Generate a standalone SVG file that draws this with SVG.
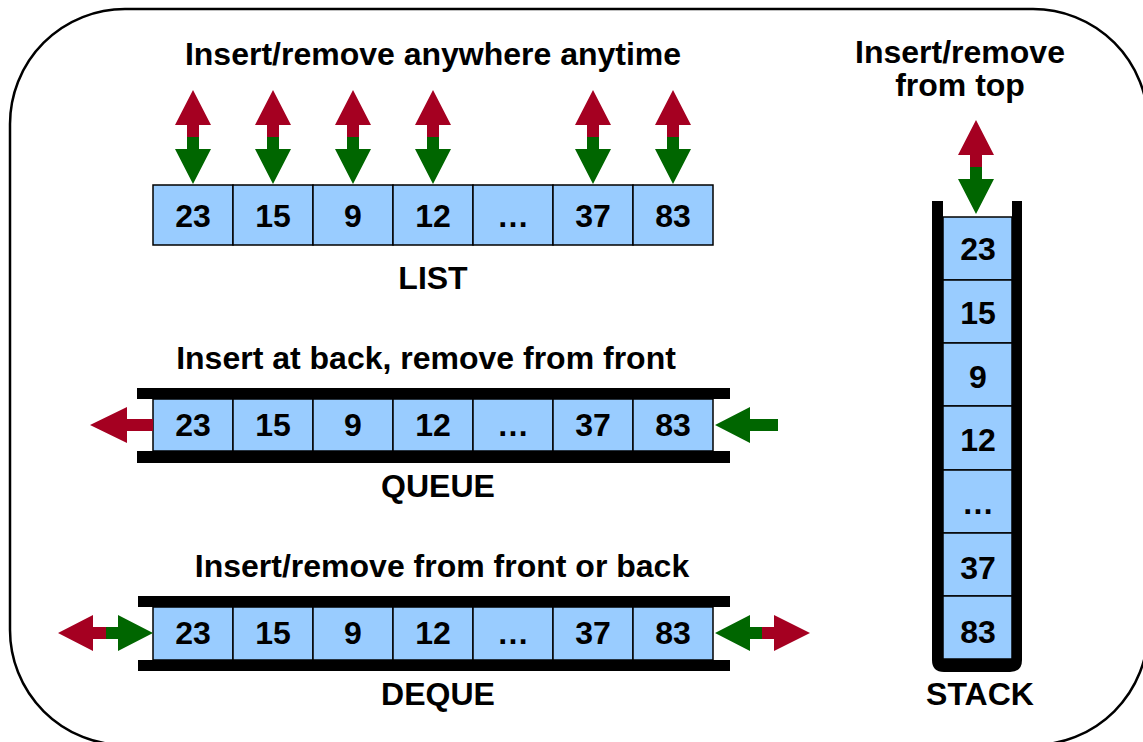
<svg xmlns="http://www.w3.org/2000/svg" width="1143" height="742" viewBox="0 0 1143 742">
<style>
.cell{fill:#99CCFF;stroke:#000;stroke-width:1.5}
.t{font-family:"Liberation Sans",Arial,sans-serif;font-weight:bold;font-size:32px;fill:#000;text-anchor:middle}
.n{font-family:"Liberation Sans",Arial,sans-serif;font-weight:bold;font-size:32px;fill:#000;text-anchor:middle}
.bar{fill:#000}
.red{fill:#A50021}
.grn{fill:#006600}
</style>
<defs>
<g id="vud">
<path class="red" d="M0,0 L18,35 L6,35 L6,47 L-6,47 L-6,35 L-18,35 Z"/>
<path class="grn" d="M-6,47 L6,47 L6,59 L18,59 L0,94 L-18,59 L-6,59 Z"/>
</g>
</defs>
<rect id="frame" x="10" y="9" width="1138" height="736" rx="115" ry="115" fill="#fff" stroke="#000" stroke-width="2.5"/>

<g id="list">
<text class="t" x="433" y="65">Insert/remove anywhere anytime</text>
<rect class="cell" x="153" y="185" width="80" height="60"/>
<rect class="cell" x="233" y="185" width="80" height="60"/>
<rect class="cell" x="313" y="185" width="80" height="60"/>
<rect class="cell" x="393" y="185" width="80" height="60"/>
<rect class="cell" x="473" y="185" width="80" height="60"/>
<rect class="cell" x="553" y="185" width="80" height="60"/>
<rect class="cell" x="633" y="185" width="80" height="60"/>
<text class="n" x="193" y="227">23</text>
<text class="n" x="273" y="227">15</text>
<text class="n" x="353" y="227">9</text>
<text class="n" x="433" y="227">12</text>
<text class="n" x="513" y="227">…</text>
<text class="n" x="593" y="227">37</text>
<text class="n" x="673" y="227">83</text>
<text class="t" x="433" y="289">LIST</text>
</g>

<g id="queue">
<text class="t" x="426" y="369">Insert at back, remove from front</text>
<rect class="bar" x="137" y="388" width="593" height="11"/>
<rect class="bar" x="137" y="451" width="593" height="12"/>
<rect class="cell" x="153" y="399" width="80" height="52"/>
<rect class="cell" x="233" y="399" width="80" height="52"/>
<rect class="cell" x="313" y="399" width="80" height="52"/>
<rect class="cell" x="393" y="399" width="80" height="52"/>
<rect class="cell" x="473" y="399" width="80" height="52"/>
<rect class="cell" x="553" y="399" width="80" height="52"/>
<rect class="cell" x="633" y="399" width="80" height="52"/>
<text class="n" x="193" y="436">23</text>
<text class="n" x="273" y="436">15</text>
<text class="n" x="353" y="436">9</text>
<text class="n" x="433" y="436">12</text>
<text class="n" x="513" y="436">…</text>
<text class="n" x="593" y="436">37</text>
<text class="n" x="673" y="436">83</text>
<text class="t" x="438" y="497">QUEUE</text>
</g>

<g id="deque">
<text class="t" x="442" y="577">Insert/remove from front or back</text>
<rect class="bar" x="138" y="596" width="592" height="11"/>
<rect class="bar" x="138" y="660" width="592" height="11"/>
<rect class="cell" x="153" y="607" width="80" height="53"/>
<rect class="cell" x="233" y="607" width="80" height="53"/>
<rect class="cell" x="313" y="607" width="80" height="53"/>
<rect class="cell" x="393" y="607" width="80" height="53"/>
<rect class="cell" x="473" y="607" width="80" height="53"/>
<rect class="cell" x="553" y="607" width="80" height="53"/>
<rect class="cell" x="633" y="607" width="80" height="53"/>
<text class="n" x="193" y="644">23</text>
<text class="n" x="273" y="644">15</text>
<text class="n" x="353" y="644">9</text>
<text class="n" x="433" y="644">12</text>
<text class="n" x="513" y="644">…</text>
<text class="n" x="593" y="644">37</text>
<text class="n" x="673" y="644">83</text>
<text class="t" x="438" y="705">DEQUE</text>
</g>

<g id="stack">
<text class="t" x="960" y="63">Insert/remove</text>
<text class="t" x="960" y="96">from top</text>
<path class="bar" d="M932,201 V660 Q932,672 944,672 H1010 Q1022,672 1022,660 V201 H1012 V659 H943 V201 Z"/>
<rect class="cell" x="943" y="217" width="69" height="63"/>
<rect class="cell" x="943" y="280" width="69" height="63"/>
<rect class="cell" x="943" y="343" width="69" height="63"/>
<rect class="cell" x="943" y="406" width="69" height="64"/>
<rect class="cell" x="943" y="470" width="69" height="63"/>
<rect class="cell" x="943" y="533" width="69" height="63"/>
<rect class="cell" x="943" y="596" width="69" height="63"/>
<text class="n" x="978" y="260">23</text>
<text class="n" x="978" y="324">15</text>
<text class="n" x="978" y="388">9</text>
<text class="n" x="978" y="451">12</text>
<text class="n" x="978" y="514">…</text>
<text class="n" x="978" y="579">37</text>
<text class="n" x="978" y="643">83</text>
<text class="t" x="980" y="705">STACK</text>
</g>

<g id="connectors">
<use href="#vud" x="193" y="90"/>
<use href="#vud" x="273" y="90"/>
<use href="#vud" x="353" y="90"/>
<use href="#vud" x="433" y="90"/>
<use href="#vud" x="593" y="90"/>
<use href="#vud" x="673" y="90"/>
<use href="#vud" x="976" y="120"/>
<path class="red" d="M90,425 L127,407 L127,419 L153,419 L153,431 L127,431 L127,443 Z"/>
<path class="grn" d="M715,425 L750,407 L750,419 L778,419 L778,431 L750,431 L750,443 Z"/>
<path class="red" d="M58,633 L93,615 L93,627 L106,627 L106,639 L93,639 L93,651 Z"/>
<path class="grn" d="M106,627 L118,627 L118,615 L153,633 L118,651 L118,639 L106,639 Z"/>
<path class="grn" d="M715,633 L750,615 L750,627 L762,627 L762,639 L750,639 L750,651 Z"/>
<path class="red" d="M762,627 L774,627 L774,615 L810,633 L774,651 L774,639 L762,639 Z"/>
</g>
</svg>
